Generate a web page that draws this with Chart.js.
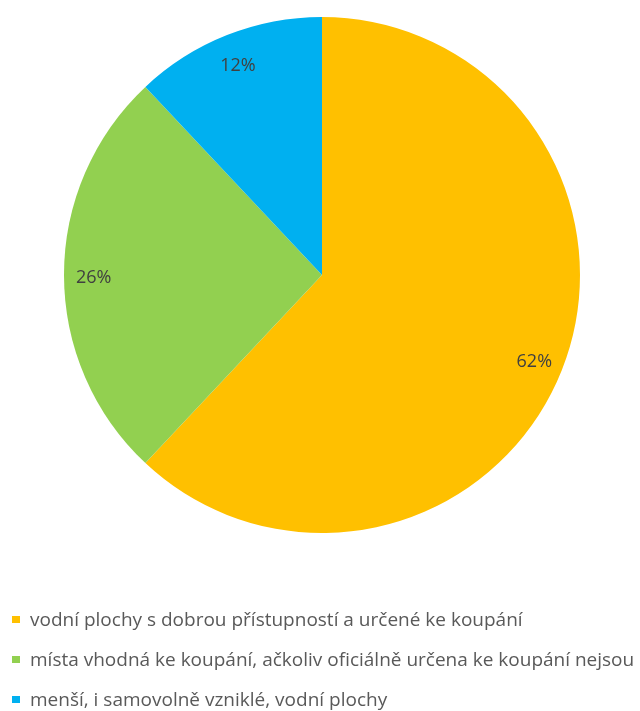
<!DOCTYPE html>
<html>
<head>
<meta charset="utf-8">
<script src="https://cdn.jsdelivr.net/npm/chart.js@4/dist/chart.umd.min.js"></script>
<style>
    html, body { margin: 0; padding: 0; background: #ffffff; }
    #wrap { position: relative; width: 640px; height: 711px; }
    #legend { position: absolute; left: 12px; top: 599px; font-family: "Open Sans", sans-serif; font-size: 19px; color: #595959; }
    .legend-row { display: flex; align-items: center; height: 40px; white-space: nowrap; }
    .legend-box { width: 8px; height: 7px; margin-right: 10px; flex: none; }
</style>
</head>
<body>
<div id="wrap">
    <canvas id="chart"></canvas>
    <div id="legend"></div>
</div>
<script>
const categories = [
    'vodní plochy s dobrou přístupností a určené ke koupání',
    'místa vhodná ke koupání, ačkoliv oficiálně určena ke koupání nejsou',
    'menší, i samovolně vzniklé, vodní plochy'
];
const shares = [62, 26, 12];
const sliceColors = ['#FFC000', '#92D050', '#00B0F0'];

// percent labels inside the slices
const sliceLabels = {
    id: 'sliceLabels',
    afterDatasetsDraw(chart) {
        const ctx = chart.ctx;
        const meta = chart.getDatasetMeta(0);
        ctx.save();
        ctx.font = '18px "Open Sans", sans-serif';
        ctx.fillStyle = '#404040';
        ctx.textAlign = 'center';
        ctx.textBaseline = 'middle';
        meta.data.forEach((arc, i) => {
            const mid = (arc.startAngle + arc.endAngle) / 2;
            const r = arc.outerRadius * 0.885;
            const x = arc.x + Math.cos(mid) * r;
            const y = arc.y + Math.sin(mid) * r + 3;
            ctx.fillText(shares[i] + '%', x, y);
        });
        ctx.restore();
    }
};

const chart = new Chart(document.getElementById('chart'), {
    type: 'pie',
    data: {
        labels: categories,
        datasets: [{
            data: shares,
            backgroundColor: sliceColors,
            borderWidth: 0
        }]
    },
    options: {
        responsive: true,
        maintainAspectRatio: false,
        animation: false,
        layout: {
            padding: { top: 17, bottom: 178, left: 4, right: 0 }
        },
        plugins: {
            legend: { display: false },
            tooltip: { enabled: false }
        }
    },
    plugins: [sliceLabels]
});

// html legend built from the chart data
const legendEl = document.getElementById('legend');
chart.data.labels.forEach((label, i) => {
    const row = document.createElement('div');
    row.className = 'legend-row';
    row.innerHTML = `<span class="legend-box" style="background:${sliceColors[i]}"></span><span>${label}</span>`;
    legendEl.appendChild(row);
});
</script>
</body>
</html>
